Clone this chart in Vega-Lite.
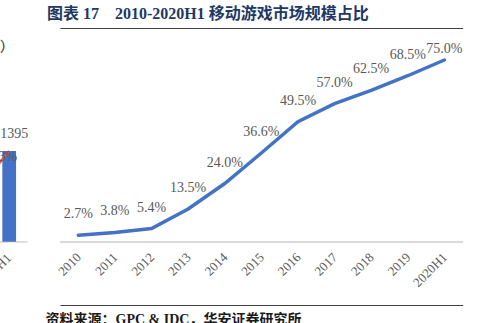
{
  "$schema": "https://vega.github.io/schema/vega-lite/v6.json",
  "autosize": {"type": "none"},
  "padding": {"left": 0, "top": 28, "right": 10, "bottom": 18},
  "width": 471,
  "height": 277,
  "background": "white",
  "config": {"view": {"stroke": null}, "font": "Liberation Serif"},
  "title": {
    "text": "图表 17\u20032010-2020H1 移动游戏市场规模占比",
    "anchor": "start",
    "frame": "group",
    "dx": 47,
    "offset": 6,
    "font": "'Liberation Serif', 'Noto Sans CJK SC'",
    "fontSize": 16,
    "fontWeight": "bold",
    "color": "#1F3864"
  },
  "datasets": {
    "share": [
      {"year": "2010", "share": 0.027},
      {"year": "2011", "share": 0.038},
      {"year": "2012", "share": 0.054},
      {"year": "2013", "share": 0.135},
      {"year": "2014", "share": 0.240},
      {"year": "2015", "share": 0.366},
      {"year": "2016", "share": 0.495},
      {"year": "2017", "share": 0.570},
      {"year": "2018", "share": 0.625},
      {"year": "2019", "share": 0.685},
      {"year": "2020H1", "share": 0.750}
    ],
    "revenue": [
      {"year": "2019", "revenue": 2308.8, "growth": 0.077},
      {"year": "2020H1", "revenue": 1394.9, "growth": 0.223}
    ]
  },
  "resolve": {"scale": {"x": "independent", "y": "independent"}, "axis": {"x": "independent", "y": "independent"}},
  "layer": [
    {
      "data": {"name": "revenue"},
      "resolve": {"scale": {"y": "independent"}},
      "encoding": {
        "x": {
          "field": "year", "type": "nominal", "sort": null,
          "scale": {"domain": ["2019", "2020H1"], "range": [-45.1, 27.3], "paddingInner": 0, "paddingOuter": 0},
          "axis": null
        }
      },
      "layer": [
        {
          "mark": {"type": "rule", "color": "#D9D9D9", "strokeWidth": 1.5},
          "encoding": {
            "x": {"datum": "2019", "bandPosition": 0},
            "x2": {"datum": "2020H1", "bandPosition": 1},
            "y": {"datum": 0, "scale": {"domain": [-973.5, 3287]}, "axis": null}
          }
        },
        {
          "mark": {"type": "bar", "color": "#4472C4", "width": {"band": 0.38}},
          "encoding": {
            "y": {"field": "revenue", "type": "quantitative", "scale": {"domain": [-973.5, 3287]}, "axis": null}
          }
        },
        {
          "mark": {"type": "text", "fontSize": 14, "color": "#595959", "baseline": "middle", "dx": 5, "dy": -17},
          "encoding": {
            "y": {"field": "revenue", "type": "quantitative", "scale": {"domain": [-973.5, 3287]}, "axis": null},
            "text": {"field": "revenue", "type": "quantitative", "format": "d"}
          }
        },
        {
          "mark": {"type": "line", "color": "#E5504A", "strokeWidth": 2.5},
          "encoding": {
            "y": {"field": "growth", "type": "quantitative", "scale": {"domain": [-0.289, 0.632]}, "axis": null}
          }
        },
        {
          "mark": {"type": "text", "fontSize": 14, "color": "#595959", "align": "right", "baseline": "middle", "dx": 8, "dy": 6},
          "encoding": {
            "y": {"field": "growth", "type": "quantitative", "scale": {"domain": [-0.289, 0.632]}, "axis": null},
            "text": {"field": "growth", "type": "quantitative", "format": ".1%"}
          }
        },
        {
          "mark": {"type": "text", "fontSize": 13, "color": "#595959", "align": "right", "baseline": "middle", "angle": -45},
          "encoding": {
            "y": {"datum": -220, "scale": {"domain": [-973.5, 3287]}, "axis": null},
            "text": {"field": "year", "type": "nominal"}
          }
        },
        {
          "mark": {"type": "text", "fontSize": 14, "color": "#595959", "align": "right", "baseline": "middle", "dx": 23, "font": "'Noto Sans CJK SC'"},
          "encoding": {
            "x": {"datum": "2020H1", "bandPosition": 0},
            "y": {"datum": 3002, "scale": {"domain": [-973.5, 3287]}, "axis": null},
            "text": {"value": "（亿元）"}
          }
        }
      ]
    },
    {
      "data": {"name": "share"},
      "encoding": {
        "x": {
          "field": "year", "type": "nominal", "sort": null,
          "scale": {"domain": ["2010", "2011", "2012", "2013", "2014", "2015", "2016", "2017", "2018", "2019", "2020H1"], "range": [60, 462.7], "paddingInner": 0, "paddingOuter": 0},
          "axis": {
            "orient": "bottom", "domain": false,
            "ticks": false, "labels": false, "grid": false,
            "title": "资料来源：GPC & IDC，华安证券研究所",
            "titleAlign": "left", "titleAnchor": "start", "titleX": 45, "titleY": 7, "titleBaseline": "top",
            "titleFont": "'Liberation Serif', 'Noto Sans CJK SC'", "titleFontSize": 14, "titleFontWeight": "bold", "titleColor": "#1A1A1A"
          }
        },
        "y": {
          "field": "share", "type": "quantitative",
          "scale": {"domain": [-0.2613, 0.8821], "nice": false, "zero": false},
          "axis": {"orient": "left", "domain": false, "ticks": false, "labels": false, "title": null, "grid": true, "values": [-0.2613, 0.8821], "gridColor": "#404040", "gridWidth": 1, "gridOpacity": 1}
        }
      },
      "layer": [
        {
          "mark": {"type": "rule", "color": "#D9D9D9", "strokeWidth": 1.5},
          "encoding": {
            "x": {"datum": "2010", "bandPosition": 0},
            "x2": {"datum": "2020H1", "bandPosition": 1},
            "y": {"datum": 0}
          }
        },
        {
          "mark": {"type": "line", "color": "#4472C4", "strokeWidth": 3.5, "strokeCap": "round"}
        },
        {
          "transform": [{"filter": "datum.year != '2020H1'"}],
          "mark": {"type": "text", "fontSize": 14, "color": "#595959", "baseline": "middle", "dy": -21},
          "encoding": {"text": {"field": "share", "type": "quantitative", "format": ".1%"}}
        },
        {
          "transform": [{"filter": "datum.year == '2020H1'"}],
          "mark": {"type": "text", "fontSize": 14, "color": "#595959", "baseline": "middle", "dy": -11},
          "encoding": {"text": {"field": "share", "type": "quantitative", "format": ".1%"}}
        },
        {
          "mark": {"type": "text", "fontSize": 13, "color": "#595959", "align": "right", "baseline": "middle", "angle": -45, "dx": 1},
          "encoding": {
            "y": {"datum": -0.059},
            "text": {"field": "year", "type": "nominal"}
          }
        }
      ]
    }
  ]
}
